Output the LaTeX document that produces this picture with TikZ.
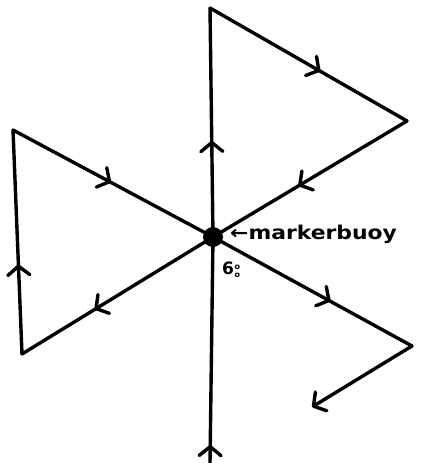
\documentclass[tikz,border=0pt]{standalone}
\usepackage{fontspec}
\newfontfamily\handfont{DejaVu Sans}
\usetikzlibrary{arrows.meta,decorations.markings}
\tikzset{
  stroke/.style={line width=3.4pt, line cap=round, line join=round},
  midarrow/.style={postaction={decorate}, decoration={markings,
     mark=at position #1 with {\arrow[line width=3.4pt]{Straight Barb[length=9pt,width=22pt,round]}}}},
  buoy/.style={circle, fill=black, inner sep=0pt, minimum size=20pt},
  lbl/.style={inner sep=0pt, font=\handfont\bfseries},
}
\begin{document}
\begin{tikzpicture}[x=1pt,y=-1pt]
\useasboundingbox (0,0) rectangle (435,463);
\coordinate (B) at (210,463);
\coordinate (T) at (210,8);
\coordinate (RT) at (407,121);
\coordinate (LT) at (13,130);
\coordinate (LB) at (22,354);
\coordinate (RB) at (412,346);
\coordinate (E) at (312,407);
\node[buoy] (C) at (213,237) {};
\draw[stroke, midarrow=0.08] (B) -- (C.center);
\draw[stroke, midarrow=0.42] (C.center) -- (T);
\draw[stroke, midarrow=0.56] (T) -- (RT);
\draw[stroke, midarrow=0.56] (RT) -- (C.center);
\draw[stroke, midarrow=0.62] (C.center) -- (LB);
\draw[stroke, midarrow=0.4] (LB) -- (LT);
\draw[stroke, midarrow=0.49] (LT) -- (C.center);
\draw[stroke, midarrow=0.59] (C.center) -- (RB);
\draw[stroke, -{Straight Barb[length=9pt,width=22pt,round]}] (RB) -- (E);
\node[lbl, anchor=west, font=\handfont\bfseries\fontsize{19}{19}\selectfont, xscale=1.15] (L) at (230,234) {←markerbuoy};
\node[lbl, anchor=west, font=\handfont\bfseries\fontsize{17}{17}\selectfont] (A) at (222,270) {6\hspace{0.5pt}\raisebox{-3pt}{\fontsize{8}{10}\selectfont\shortstack{o\\[1pt]o}}};
\end{tikzpicture}
\end{document}
